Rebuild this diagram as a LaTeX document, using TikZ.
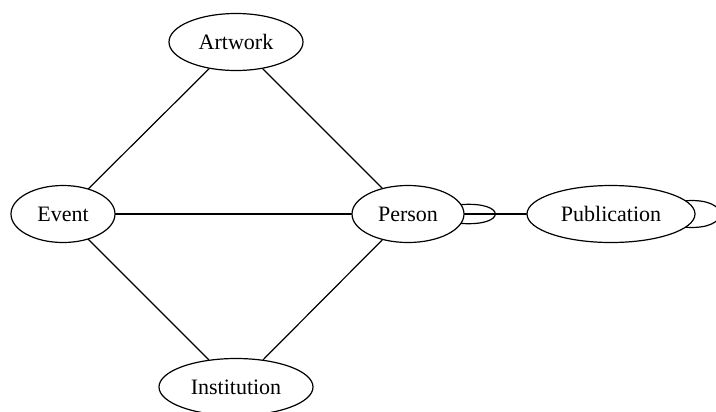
\documentclass[tikz,border=0pt]{standalone}
\usepackage{fontspec}
\setmainfont{Liberation Serif}
\usetikzlibrary{shapes.geometric}
\begin{document}
\begin{tikzpicture}[x=0.75pt, y=-0.75pt, line join=round, line cap=round,
  font=\fontsize{16.5}{20}\selectfont,
  entity/.style={draw, ellipse, line width=0.9pt, inner sep=0pt, minimum height=42.75pt},
  link/.style={line width=0.9pt}]
\useasboundingbox (0,0) rectangle (716,411);
\clip (0,0) rectangle (716,411);
\node[entity, minimum width=100.5pt] (artwork) at (236,42) {Artwork};
\node[entity, minimum width=78pt] (event) at (63,214) {Event};
\node[entity, minimum width=84pt] (person) at (408,214) {Person};
\node[entity, minimum width=126pt] (publication) at (611,214) {Publication};
\node[entity, minimum width=115.5pt] (institution) at (236,387) {Institution};
\draw[link] (artwork) -- (event);
\draw[link] (artwork) -- (person);
\draw[link] (event) -- (person);
\draw[link] (event) -- (institution);
\draw[link] (person) -- (institution);
\draw[link] (person) -- (publication);
% self loops
\draw[link] (person.10) .. controls +(45,-3) and +(45,3) .. (person.-10);
\draw[link] (publication.10) .. controls +(45,-3) and +(45,3) .. (publication.-10);
\end{tikzpicture}
\end{document}
